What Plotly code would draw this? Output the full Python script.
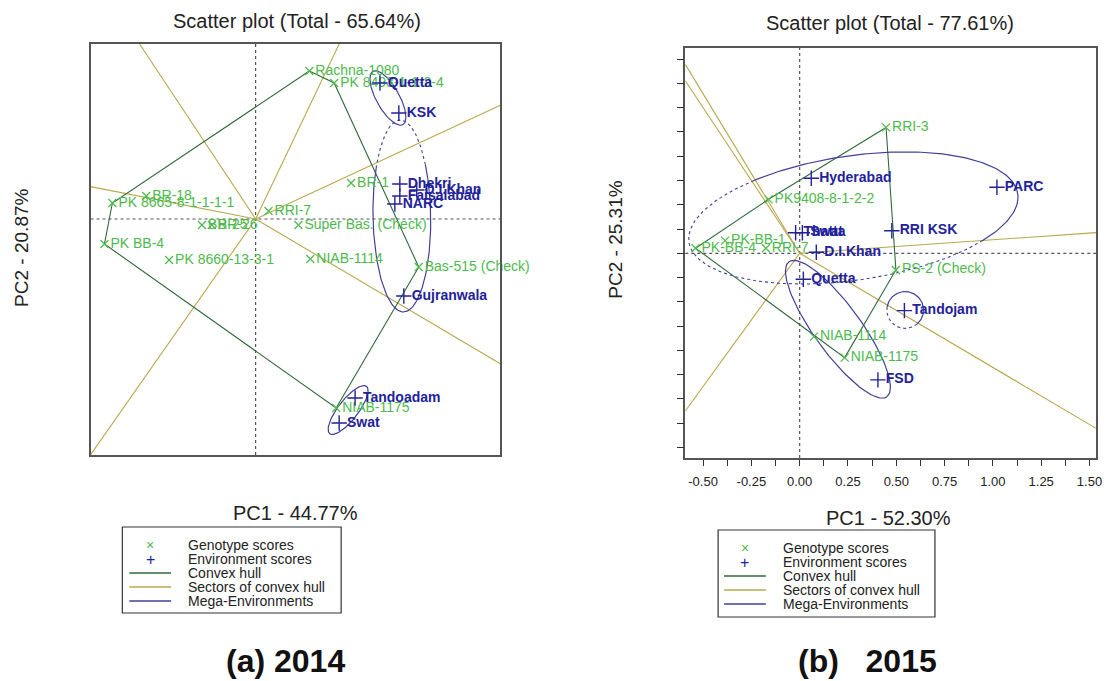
import numpy as np
import plotly.graph_objects as go

# ---------------- data: panel (a) 2014 ----------------
g14_names = ["Rachna-1080", "PK 8493-1-1-2-4", "BR-1", "BR-18", "PK 8665-8-1-1-1-1",
             "RRI-7", "BR-25", "BR-26", "PK BB-4", "PK 8660-13-3-1",
             "Super Bas. (Check)", "NIAB-1114", "Bas-515 (Check)", "NIAB-1175"]
g14_x = [0.54, 0.79, 0.96, -1.10, -1.44, 0.13, -0.54, -0.44, -1.52, -0.87, 0.43, 0.55, 1.64, 0.81]
g14_y = [1.48, 1.36, 0.36, 0.23, 0.16, 0.08, -0.06, -0.06, -0.25, -0.41, -0.06, -0.40, -0.48, -1.89]
e14_names = ["Quetta", "KSK", "Dhekri", "D.I.Khan", "Faisalabad", "NARC", "Gujranwala", "Tandoadam", "Swat"]
e14_x = [1.25, 1.44, 1.45, 1.62, 1.45, 1.40, 1.49, 1.00, 0.84]
e14_y = [1.36, 1.06, 0.35, 0.29, 0.23, 0.15, -0.77, -1.79, -2.04]
hull14 = ["Rachna-1080", "PK 8493-1-1-2-4", "Bas-515 (Check)", "NIAB-1175", "PK BB-4", "PK 8665-8-1-1-1-1"]
# mega-environment ellipses: cx, cy, a, b, angle, solid arc start, solid arc end (deg)
me14_cx = [1.33, 1.47, 0.93]
me14_cy = [1.21, 0.03, -1.91]
me14_a = [0.306, 0.96, 0.30]
me14_b = [0.115, 0.29, 0.10]
me14_ang = [-60.6, 91.0, 52.0]
me14_s0 = [0, 58, 0]
me14_s1 = [360, 302, 360]

# ---------------- data: panel (b) 2015 ----------------
g15_names = ["RRI-3", "PK9408-8-1-2-2", "PK-BB-1", "PK-BB-4", "RRI-7", "PS-2 (Check)", "NIAB-1114", "NIAB-1175"]
g15_x = [0.447, -0.161, -0.386, -0.539, -0.175, 0.498, 0.074, 0.233]
g15_y = [0.648, 0.278, 0.065, 0.026, 0.026, -0.086, -0.429, -0.537]
e15_names = ["Hyderabad", "PARC", "Thatta", "Swat", "RRI KSK", "D.I.Khan", "Quetta", "Tandojam", "FSD"]
e15_x = [0.060, 1.021, -0.021, 0.014, 0.477, 0.086, 0.019, 0.542, 0.405]
e15_y = [0.386, 0.340, 0.106, 0.106, 0.116, 0.005, -0.134, -0.295, -0.652]
hull15 = ["RRI-3", "PS-2 (Check)", "NIAB-1175", "PK-BB-4", "PK9408-8-1-2-2"]
me15_cx = [0.278, 0.198, 0.546]
me15_cy = [0.182, -0.391, -0.292]
me15_a = [0.86, 0.43, 0.095]
me15_b = [0.32, 0.121, 0.095]
me15_ang = [8.3, -53.9, 0.0]
me15_s0 = [-42, 0, -50]
me15_s1 = [124, 360, 170]

x15_ticks = [-0.5 + 0.125 * i for i in range(17)]
x15_labels = ["-0.50", "", "-0.25", "", "0.00", "", "0.25", "", "0.50", "", "0.75", "", "1.00", "", "1.25", "", "1.50"]
y15_ticks = [-1.0 + 0.125 * i for i in range(17)]

# ---------------- style ----------------
W, H = 1115, 681
C_GEN = "#4DBA4D"
C_ENV = "#22229A"
C_HULL = "#2F6A3A"
C_SECT = "#B8A94E"
C_MEGA = "#40409A"
C_AX = "#555555"
FONT = "Liberation Sans, Arial, sans-serif"

L_XR = [-1.66, 2.46]
L_YR = [-2.36, 1.75]
R_XR = [-0.592, 1.534]
R_YR = [-1.054, 1.057]

fig = go.Figure()


def ellipse(cx, cy, a, b, ang, t0, t1, n=120):
    t = np.radians(np.linspace(t0, t1, n))
    c, s = np.cos(np.radians(ang)), np.sin(np.radians(ang))
    x = cx + a * np.cos(t) * c - b * np.sin(t) * s
    y = cy + a * np.cos(t) * s + b * np.sin(t) * c
    return x, y


def rays(names, gx, gy, hull, xr, yr):
    pts = {n: (x, y) for n, x, y in zip(names, gx, gy)}
    xs, ys = [], []
    for i in range(len(hull)):
        p1 = np.array(pts[hull[i]])
        p2 = np.array(pts[hull[(i + 1) % len(hull)]])
        d = p2 - p1
        k = -np.dot(p1, d) / np.dot(d, d)
        f = p1 + k * d
        ts = []
        if f[0] > 0: ts.append(xr[1] / f[0])
        if f[0] < 0: ts.append(xr[0] / f[0])
        if f[1] > 0: ts.append(yr[1] / f[1])
        if f[1] < 0: ts.append(yr[0] / f[1])
        t = min(ts)
        xs += [0, f[0] * t, None]
        ys += [0, f[1] * t, None]
    return xs, ys


def add_panel(xa, ya, gn, gx, gy, en, ex, ey, hull, mcx, mcy, ma, mb, mang, s0, s1, xr, yr):
    rx, ry = rays(gn, gx, gy, hull, xr, yr)
    fig.add_trace(go.Scatter(x=rx, y=ry, mode="lines", line=dict(color=C_SECT, width=1.1),
                             xaxis=xa, yaxis=ya, hoverinfo="skip"))
    pts = {n: (x, y) for n, x, y in zip(gn, gx, gy)}
    hx = [pts[n][0] for n in hull] + [pts[hull[0]][0]]
    hy = [pts[n][1] for n in hull] + [pts[hull[0]][1]]
    fig.add_trace(go.Scatter(x=hx, y=hy, mode="lines", line=dict(color=C_HULL, width=1.1),
                             xaxis=xa, yaxis=ya, hoverinfo="skip"))
    for i in range(len(mcx)):
        x, y = ellipse(mcx[i], mcy[i], ma[i], mb[i], mang[i], s0[i], s1[i])
        fig.add_trace(go.Scatter(x=x, y=y, mode="lines", line=dict(color=C_MEGA, width=1.2),
                                 xaxis=xa, yaxis=ya, hoverinfo="skip"))
        if s1[i] - s0[i] < 360:
            x, y = ellipse(mcx[i], mcy[i], ma[i], mb[i], mang[i], s1[i], s0[i] + 360)
            fig.add_trace(go.Scatter(x=x, y=y, mode="lines",
                                     line=dict(color=C_MEGA, width=1.1, dash="dot"),
                                     xaxis=xa, yaxis=ya, hoverinfo="skip"))
    fig.add_trace(go.Scatter(x=gx, y=gy, mode="markers+text", text=gn, textposition="middle right",
                             marker=dict(symbol="x-thin", size=8, line=dict(color=C_GEN, width=1.2)),
                             textfont=dict(family=FONT, size=14, color=C_GEN),
                             xaxis=xa, yaxis=ya, cliponaxis=False))
    fig.add_trace(go.Scatter(x=ex, y=ey, mode="markers+text", text=en, textposition="middle right",
                             marker=dict(symbol="cross-thin", size=11, line=dict(color=C_ENV, width=1.4)),
                             textfont=dict(family=FONT, size=14, color=C_ENV, weight="bold"),
                             xaxis=xa, yaxis=ya, cliponaxis=False))


add_panel("x", "y", g14_names, g14_x, g14_y, e14_names, e14_x, e14_y, hull14,
          me14_cx, me14_cy, me14_a, me14_b, me14_ang, me14_s0, me14_s1, L_XR, L_YR)
add_panel("x2", "y2", g15_names, g15_x, g15_y, e15_names, e15_x, e15_y, hull15,
          me15_cx, me15_cy, me15_a, me15_b, me15_ang, me15_s0, me15_s1, R_XR, R_YR)

shapes = []
for xa, ya in (("x", "y"), ("x2", "y2")):
    shapes.append(dict(type="line", xref=xa, yref=ya + " domain", x0=0, x1=0, y0=0, y1=1,
                       line=dict(color=C_AX, width=1.2, dash="dot"), layer="below"))
    shapes.append(dict(type="line", xref=xa + " domain", yref=ya, x0=0, x1=1, y0=0, y1=0,
                       line=dict(color=C_AX, width=1.2, dash="dot"), layer="below"))


def PX(x):
    return x / W


def PY(y):
    return 1 - y / H


annotations = []


def ann(text, x, y, size, color="#222222", bold=False, angle=0, xanchor="center"):
    annotations.append(dict(text=("<b>%s</b>" % text) if bold else text, x=PX(x), y=PY(y),
                            xref="paper", yref="paper", showarrow=False, xanchor=xanchor,
                            yanchor="middle", textangle=angle,
                            font=dict(family=FONT, size=size, color=color)))


ann("Scatter plot (Total - 65.64%)", 299, 21, 20)
ann("Scatter plot (Total - 77.61%)", 895, 23, 20)
ann("PC1 - 44.77%", 297, 513, 20)
ann("PC1 - 52.30%", 893, 518, 20)
ann("PC2 - 20.87%", 22, 248, 19, angle=-90)
ann("PC2 - 25.31%", 618, 240, 19, angle=-90)
ann("(a) 2014", 287, 661, 32, color="#111111", bold=True)
ann("(b)\u00a0\u00a0\u00a02015", 872, 661, 32, color="#111111", bold=True)

leg_items = ["Genotype scores", "Environment scores", "Convex hull", "Sectors of convex hull", "Mega-Environments"]
for (bx0, by0, bx1, by1, sx, l0, l1, tx, rows) in (
        (123, 527, 343, 613, 151, 130, 172, 187, [545, 559, 573, 587, 601]),
        (722, 530, 940, 617, 749, 728, 770, 785, [548, 562, 576, 590, 604])):
    shapes.append(dict(type="rect", xref="paper", yref="paper", x0=PX(bx0), x1=PX(bx1),
                       y0=PY(by1), y1=PY(by0), line=dict(color="#333333", width=1.2)))
    ann("×", sx, rows[0], 14, color=C_GEN)
    ann("+", sx, rows[1], 16, color=C_ENV)
    for r, c in zip(rows[2:], (C_HULL, C_SECT, C_MEGA)):
        shapes.append(dict(type="line", xref="paper", yref="paper", x0=PX(l0), x1=PX(l1),
                           y0=PY(r), y1=PY(r), line=dict(color=c, width=1.3)))
    for r, t in zip(rows, leg_items):
        ann(t, tx, r, 14, color="#222222", xanchor="left")

box = dict(showline=True, mirror=True, linecolor=C_AX, linewidth=1.5, showgrid=False, zeroline=False)
fig.update_layout(
    width=W, height=H, margin=dict(l=0, r=0, t=0, b=0),
    paper_bgcolor="white", plot_bgcolor="white", showlegend=False,
    font=dict(family=FONT),
    xaxis=dict(domain=[PX(91), PX(503)], range=L_XR, showticklabels=False, ticks="", **box),
    yaxis=dict(domain=[PY(455), PY(44)], range=L_YR, showticklabels=False, ticks="", **box),
    xaxis2=dict(domain=[PX(689), PX(1102)], range=R_XR, anchor="y2", tickvals=x15_ticks,
                ticktext=x15_labels, ticks="outside", ticklen=6, tickcolor="#333333",
                tickfont=dict(family=FONT, size=13, color="#222222"), ticklabelstandoff=5, **box),
    yaxis2=dict(domain=[PY(458), PY(48)], range=R_YR, anchor="x2", tickvals=y15_ticks,
                showticklabels=False, ticks="outside", ticklen=7, tickcolor="#333333", **box),
    shapes=shapes, annotations=annotations,
)

fig.write_html("out.html", config={"displayModeBar": False},
               post_script="document.body.style.margin='0';document.body.style.overflow='hidden';")
